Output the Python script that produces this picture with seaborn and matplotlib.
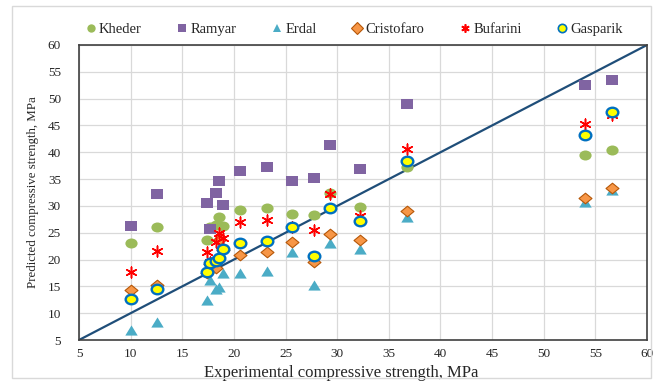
import pandas as pd
import matplotlib.pyplot as plt
import seaborn as sns
from matplotlib.lines import Line2D
from matplotlib.markers import MarkerStyle
from matplotlib.patches import Rectangle
from matplotlib.transforms import Affine2D

# Experimental strength (x) shared by all models, MPa
exp_strength = [10.0, 12.6, 17.4, 17.7, 18.3, 18.6, 18.9, 20.6, 23.2, 25.6, 27.8, 29.3, 32.2, 36.8, 54.0, 56.6]

# Predicted strength per model, MPa
kheder = [23.1, 26.0, 23.6, 26.0, 26.5, 27.9, 26.2, 29.3, 29.6, 28.5, 28.3, 32.5, 29.8, 37.2, 39.5, 40.5]
ramyar = [26.2, 32.3, 30.5, 25.7, 32.4, 34.7, 30.1, 36.5, 37.2, 34.6, 35.2, 41.4, 36.8, 49.0, 52.6, 53.5]
erdal = [6.9, 8.3, 12.4, 16.1, 14.5, 14.9, 17.4, 17.4, 17.8, 21.5, 15.2, 23.0, 21.9, 28.0, 30.7, 33.0]
cristofaro = [14.4, 15.2, 17.5, 19.2, 18.4, 23.7, 21.7, 20.9, 21.4, 23.2, 19.6, 24.8, 23.6, 29.1, 31.4, 33.4]
bufarini = [17.7, 21.6, 21.5, 19.5, 23.2, 25.0, 24.0, 27.0, 27.4, 26.0, 25.5, 32.3, 28.2, 40.7, 45.3, 47.0]
gasparik = [12.7, 14.6, 17.7, 19.3, 19.7, 20.3, 21.9, 23.0, 23.4, 26.0, 20.7, 29.6, 27.2, 38.3, 43.3, 47.5]

models = ["Kheder", "Ramyar", "Erdal", "Cristofaro", "Bufarini", "Gasparik"]
line_range = [5, 60]

df = pd.DataFrame({
    "experimental": exp_strength * 6,
    "predicted": kheder + ramyar + erdal + cristofaro + bufarini + gasparik,
    "model": [m for m in models for _ in exp_strength],
})

# the source image is slightly stretched sideways, so are its markers
stretch = Affine2D().scale(1.1, 0.9)

# marker, face colour, edge colour, edge width, size
styles = {
    "Kheder": ("o", "#9BBB59", "#9BBB59", 0.0, 64),
    "Ramyar": ("s", "#8064A2", "#8064A2", 0.0, 70),
    "Erdal": ("^", "#4BACC6", "#4BACC6", 0.0, 66),
    "Cristofaro": ("D", "#F79646", "#B65708", 0.8, 36),
    "Bufarini": ((6, 2, 0), "#FF0000", "#FF0000", 1.1, 60),
    "Gasparik": ("o", "#FFFF00", "#0070C0", 1.7, 58),
}

sns.set_theme(style="white")
plt.rcParams['font.family'] = ['Liberation Serif', 'DejaVu Serif']

fig = plt.figure(figsize=(6.54, 3.81), dpi=100)
fig.add_artist(Rectangle((0.018, 0.008), 0.978, 0.975, transform=fig.transFigure,
                         fill=False, edgecolor="#D9D9D9", linewidth=1.0))
ax = fig.add_axes([0.1208, 0.1076, 0.8685, 0.7743])

# 1:1 line
sns.lineplot(x=line_range, y=line_range, ax=ax, color="#1F4E79", linewidth=1.6, zorder=2)

for i, name in enumerate(models):
    marker, face, edge, lw, size = styles[name]
    sub = df[df["model"] == name]
    if name == "Bufarini":
        sns.scatterplot(data=sub, x="experimental", y="predicted", ax=ax, marker=marker,
                        color=face, linewidth=lw, s=size, zorder=3 + i, legend=False)
    else:
        sns.scatterplot(data=sub, x="experimental", y="predicted", ax=ax,
                        marker=MarkerStyle(marker, transform=stretch),
                        color=face, edgecolor=edge, linewidth=lw, s=size, zorder=3 + i,
                        legend=False)

ax.set_xlim(5, 60)
ax.set_ylim(5, 60)
ax.set_xticks(range(5, 61, 5))
ax.set_yticks(range(5, 61, 5))
ax.grid(True, color="#D9D9D9", linewidth=0.9)
ax.set_axisbelow(True)
for sp in ax.spines.values():
    sp.set_color("#404040")
    sp.set_linewidth(1.2)
ax.tick_params(axis="both", length=0, labelsize=9.5, colors="#262626")
ax.tick_params(axis="y", pad=13)
ax.tick_params(axis="x", pad=6)
ax.set_xlabel("Experimental compressive strength, MPa", fontsize=12, color="#262626", labelpad=1)
ax.xaxis.set_label_coords(0.462, -0.085)
ax.set_ylabel("Predicted compressive strength, MPa", fontsize=9.3, color="#262626", labelpad=6)

handles = []
for name in models:
    marker, face, edge, lw, size = styles[name]
    if name == "Bufarini":
        h = Line2D([], [], linestyle="none", marker=marker, color=face, markersize=6, markeredgewidth=1.2)
    else:
        h = Line2D([], [], linestyle="none", marker=marker, markerfacecolor=face,
                   markeredgecolor=edge, markeredgewidth=min(lw, 1.2), markersize=6)
    handles.append(h)
fig.legend(handles, models, loc="center", bbox_to_anchor=(0.54, 0.922), ncol=6, frameon=False,
           fontsize=10.5, handletextpad=0.05, columnspacing=2.3, handlelength=1.0)

fig.savefig("out.png", dpi=100)
